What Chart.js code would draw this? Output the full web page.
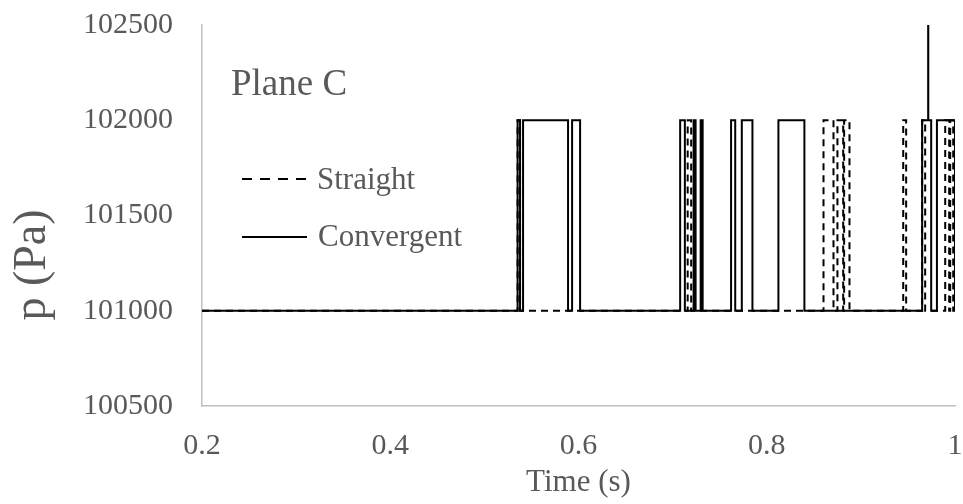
<!DOCTYPE html>
<html>
<head>
<meta charset="utf-8">
<script src="https://cdn.jsdelivr.net/npm/chart.js@4.4.1/dist/chart.umd.min.js"></script>
<style>
  body { margin: 0; background: #fff; }
</style>
</head>
<body>
<canvas id="chart" width="963" height="504"></canvas>
<script>
// switching events: at time t the pressure jumps to p (stepped line)
const convergentTime = [0.2, 0.5353, 0.5379, 0.5411, 0.5889, 0.5932, 0.6017,
  0.708, 0.713, 0.7223, 0.7244, 0.7298, 0.7319,
  0.7621, 0.7665, 0.7735, 0.7848, 0.8124, 0.8400,
  0.9651, 0.9715, 0.9716, 0.9747, 0.9808, 1.0];
const convergentPressure = [101000, 102000, 101000, 102000, 101000, 102000, 101000,
  102000, 101000, 102000, 101000, 102000, 101000,
  102000, 101000, 102000, 101000, 102000, 101000,
  102000, 102500, 102000, 101000, 102000, 101000];

const straightTime = [0.2, 0.5353, 0.5379, 0.716, 0.7197,
  0.8603, 0.8709, 0.8751, 0.8812, 0.8822, 0.8879,
  0.9450, 0.9481, 0.9651, 0.9683,
  0.9896, 0.9938, 0.9949, 0.9981, 1.0];
const straightPressure = [101000, 102000, 101000, 102000, 101000,
  102000, 101000, 102000, 101000, 102000, 101000,
  102000, 101000, 102000, 101000,
  102000, 101000, 102000, 101000, 101000];

const xTickValues = [0.2, 0.4, 0.6, 0.8, 1];
const xTickLabels = ['0.2', '0.4', '0.6', '0.8', '1'];
const yTickValues = [100500, 101000, 101500, 102000, 102500];
const yTickLabels = ['100500', '101000', '101500', '102000', '102500'];

const toPoints = (xs, ys) => xs.map((x, i) => ({x: x, y: ys[i]}));

const textGray = '#595959';
const serif = '"Liberation Serif", "Times New Roman", serif';

// plane label, legend and y axis title are drawn inside the canvas
const overlay = {
  id: 'overlay',
  afterDraw(chart) {
    const ctx = chart.ctx;
    ctx.save();
    ctx.fillStyle = textGray;
    ctx.textBaseline = 'middle';
    ctx.textAlign = 'left';
    ctx.font = '37px ' + serif;
    ctx.fillText('Plane C', 231, 85);

    ctx.strokeStyle = '#000';
    ctx.lineWidth = 2;
    ctx.setLineDash([10, 8]);
    ctx.beginPath();
    ctx.moveTo(242, 179);
    ctx.lineTo(307, 179);
    ctx.stroke();
    ctx.setLineDash([]);
    ctx.beginPath();
    ctx.moveTo(242, 237);
    ctx.lineTo(307, 237);
    ctx.stroke();

    ctx.font = '31px ' + serif;
    ctx.fillText('Straight', 317, 181);
    ctx.fillText('Convergent', 318, 238);

    ctx.translate(33, 265);
    ctx.rotate(-Math.PI / 2);
    ctx.textAlign = 'center';
    ctx.font = '46px ' + serif;
    ctx.fillText('p (Pa)', 0, 0);
    ctx.restore();
  }
};

const ctx = document.getElementById('chart').getContext('2d');
new Chart(ctx, {
  type: 'line',
  data: {
    datasets: [{
      label: 'Convergent',
      data: toPoints(convergentTime, convergentPressure),
      borderColor: '#000',
      borderWidth: 2,
      stepped: true,
      pointRadius: 0,
      fill: false
    }, {
      label: 'Straight',
      data: toPoints(straightTime, straightPressure),
      borderColor: '#000',
      borderWidth: 2,
      borderDash: [7, 5],
      stepped: true,
      pointRadius: 0,
      fill: false
    }]
  },
  options: {
    responsive: false,
    animation: false,
    devicePixelRatio: 1,
    layout: { padding: { top: 25, right: 8, left: 0, bottom: 0 } },
    plugins: {
      legend: { display: false },
      tooltip: { enabled: false }
    },
    scales: {
      x: {
        type: 'linear',
        min: 0.2,
        max: 1,
        afterBuildTicks: s => { s.ticks = xTickValues.map(v => ({value: v})); },
        afterFit: s => { s.height = 98; s.paddingLeft = 0; s.paddingRight = 0; },
        ticks: {
          padding: 22,
          maxRotation: 0,
          color: textGray,
          font: { family: serif, size: 30 },
          callback: (v, i) => xTickLabels[i]
        },
        grid: { display: false, drawTicks: false },
        border: { display: true, color: '#bfbfbf', width: 1.5 },
        title: {
          display: true,
          text: 'Time (s)',
          color: textGray,
          font: { family: serif, size: 31, lineHeight: 1.2 },
          padding: { top: 0, bottom: 3 }
        }
      },
      y: {
        min: 100500,
        max: 102500,
        afterBuildTicks: s => { s.ticks = yTickValues.map(v => ({value: v})); },
        afterFit: s => { s.width = 202; s.paddingTop = 0; s.paddingBottom = 0; },
        ticks: {
          padding: 29,
          color: textGray,
          font: { family: serif, size: 30 },
          callback: (v, i) => yTickLabels[i]
        },
        grid: { display: false, drawTicks: false },
        border: { display: true, color: '#bfbfbf', width: 1.5 }
      }
    }
  },
  plugins: [overlay]
});
</script>
</body>
</html>
